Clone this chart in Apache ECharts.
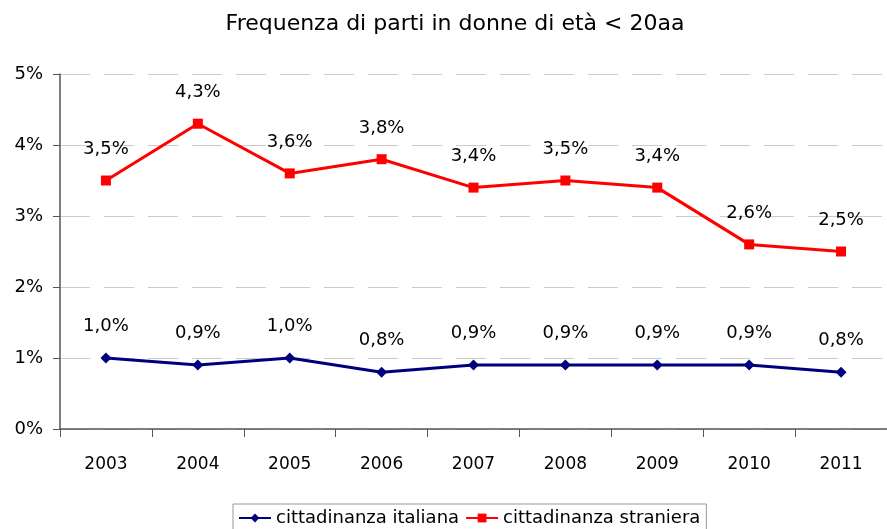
<!DOCTYPE html>
<html><head><meta charset="utf-8">
<script src="https://cdn.jsdelivr.net/npm/echarts@6/dist/echarts.min.js"></script>
<style>html,body{margin:0;padding:0;background:#fff}#c{width:887px;height:529px}</style>
</head><body><div id="c"></div>
<script>
const years = ['2003','2004','2005','2006','2007','2008','2009','2010','2011'];
const italiana = [1.0,0.9,1.0,0.8,0.9,0.9,0.9,0.9,0.8];
const straniera = [3.5,4.3,3.6,3.8,3.4,3.5,3.4,2.6,2.5];
const yTicks = [0,1,2,3,4,5];
const FONT = '"DejaVu Sans", sans-serif';
const fmt = v => v.toFixed(1).replace('.', ',') + '%';
const chart = echarts.init(document.getElementById('c'), null, {renderer:'canvas'});
chart.setOption({
  animation:false,
  textStyle:{fontFamily:FONT},
  title:{text:'Frequenza di parti in donne di età < 20aa',left:450,top:8,textAlign:'center',
    textStyle:{fontFamily:FONT,fontSize:22,fontWeight:'normal',color:'#000'}},
  grid:{left:60,right:0,top:74,bottom:100},
  legend:{bottom:-12,left:233,itemGap:6,itemWidth:32,itemHeight:11,
    borderColor:'#999',borderWidth:1,padding:[5,6,14,5],
    textStyle:{fontFamily:FONT,fontSize:18,color:'#000'},
    data:['cittadinanza italiana','cittadinanza straniera']},
  xAxis:{type:'category',data:years,boundaryGap:true,
    axisLine:{lineStyle:{color:'#555',width:1.5}},
    axisTick:{show:true,length:8,lineStyle:{color:'#555'}},
    axisLabel:{color:'#000',fontSize:17,margin:27,fontFamily:FONT}},
  yAxis:{type:'value',min:0,max:5,interval:1,
    axisLine:{show:true,lineStyle:{color:'#555',width:1.5}},
    axisTick:{show:true,length:7,lineStyle:{color:'#555'}},
    axisLabel:{color:'#000',fontSize:18,margin:17,fontFamily:FONT,
      formatter:v=>yTicks.includes(v)?v+'%':''},
    splitLine:{show:true,lineStyle:{color:'#ccc',type:[30,14],width:1}}},
  series:[
    {name:'cittadinanza italiana',type:'line',data:italiana,symbol:'diamond',symbolSize:11,
      lineStyle:{color:'#00007f',width:3},itemStyle:{color:'#00007f'},
      label:{show:true,position:'top',distance:17,formatter:p=>fmt(p.value),color:'#000',fontSize:18,fontFamily:FONT}},
    {name:'cittadinanza straniera',type:'line',data:straniera,symbol:'rect',symbolSize:10,
      lineStyle:{color:'#ff0000',width:3},itemStyle:{color:'#ff0000'},
      label:{show:true,position:'top',distance:17,formatter:p=>fmt(p.value),color:'#000',fontSize:18,fontFamily:FONT}}
  ]
});
</script></body></html>
